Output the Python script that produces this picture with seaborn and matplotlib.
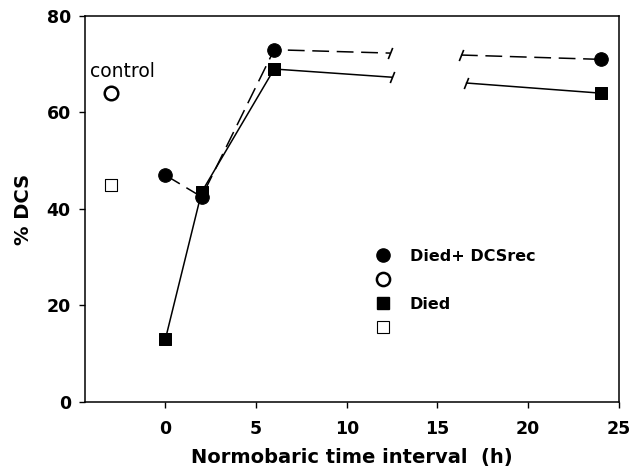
import numpy as np
import pandas as pd
import seaborn as sns
import matplotlib
matplotlib.use("Agg")
from matplotlib import pyplot as plt
from matplotlib.lines import Line2D

# values
hours = [0, 2, 6, 24]
dcsrec = [47, 42.5, 73, 71]
died = [13, 43.5, 69, 64]
ctrl_x = [-3]
ctrl_dcsrec = [64]
ctrl_died = [45]
# where the lines are broken between 6 h and 24 h
gap_x_dcsrec = [12.4, 16.3]
gap_y_dcsrec = [72.3, 71.9]
gap_x_died = [12.5, 16.6]
gap_y_died = [67.3, 66.1]

sns.set_style("ticks", rc={"text.color": "k", "axes.labelcolor": "k",
                           "xtick.color": "k", "ytick.color": "k",
                           "axes.edgecolor": "k"})
plt.rcParams["font.family"] = "DejaVu Sans"

fig = plt.figure(figsize=(6.32, 4.69), dpi=100)
ax = fig.add_axes([0.134, 0.143, 0.845, 0.823])

dash = (0, (11, 5))
lw = 1.1

# died + DCSrec, dashed, in two pieces around the break
sns.lineplot(x=hours[:3] + gap_x_dcsrec[:1], y=dcsrec[:3] + gap_y_dcsrec[:1],
             ax=ax, color="k", lw=lw, linestyle=dash, sort=False)
sns.lineplot(x=gap_x_dcsrec[1:] + hours[3:], y=gap_y_dcsrec[1:] + dcsrec[3:],
             ax=ax, color="k", lw=lw, linestyle=dash, sort=False)
# died, solid
sns.lineplot(x=hours[:3] + gap_x_died[:1], y=died[:3] + gap_y_died[:1],
             ax=ax, color="k", lw=lw, sort=False)
sns.lineplot(x=gap_x_died[1:] + hours[3:], y=gap_y_died[1:] + died[3:],
             ax=ax, color="k", lw=lw, sort=False)

# break marks
slash = [(-0.4, -1), (0.4, 1)]
ax.plot(gap_x_dcsrec, gap_y_dcsrec, ls="none", marker=slash, ms=8, mew=1.2, color="k")
ax.plot(gap_x_died, gap_y_died, ls="none", marker=slash, ms=8, mew=1.2, color="k")

# markers
sns.scatterplot(x=hours, y=dcsrec, ax=ax, marker="o", s=95, color="k", edgecolor="k", zorder=3)
sns.scatterplot(x=hours, y=died, ax=ax, marker="s", s=80, color="k", edgecolor="k", zorder=4)
sns.scatterplot(x=ctrl_x, y=ctrl_dcsrec, ax=ax, marker="o", s=95, facecolor="white",
                edgecolor="k", linewidth=1.8, zorder=3)
sns.scatterplot(x=ctrl_x, y=ctrl_died, ax=ax, marker="s", s=80, facecolor="white",
                edgecolor="k", linewidth=0.8, zorder=3)
ax.text(-2.35, 68.4, "control", ha="center", va="center", fontsize=13.5)

ax.set_xlim(-4.45, 25)
ax.set_ylim(0, 80)
ax.set_xticks([0, 5, 10, 15, 20, 25])
ax.set_yticks([0, 20, 40, 60, 80])
ax.tick_params(direction="out", length=4, width=1, labelsize=12.5, pad=6)
ax.tick_params(axis="x", pad=9)
for lab in ax.get_xticklabels() + ax.get_yticklabels():
    lab.set_fontweight("bold")
for sp in ax.spines.values():
    sp.set_linewidth(1.1)
    sp.set_color("k")

ax.set_xlabel("Normobaric time interval  (h)", fontsize=14, fontweight="bold", labelpad=7)
ax.set_ylabel("% DCS", fontsize=14, fontweight="bold", labelpad=10)

handles = [
    Line2D([], [], ls="none", marker="o", ms=9.5, color="k"),
    Line2D([], [], ls="none", marker="o", ms=9.5, mfc="white", mec="k", mew=1.8),
    Line2D([], [], ls="none", marker="s", ms=9, color="k"),
    Line2D([], [], ls="none", marker="s", ms=9, mfc="white", mec="k", mew=0.8),
]
labels = ["Died+ DCSrec", "", "Died", ""]
leg = ax.legend(handles, labels, loc="upper left", bbox_to_anchor=(0.543, 0.396),
                frameon=False, handlelength=1.0, handletextpad=1.2, labelspacing=0.55,
                borderpad=0, borderaxespad=0, prop={"size": 11.5, "weight": "bold"})

fig.savefig("out.png", dpi=100)
